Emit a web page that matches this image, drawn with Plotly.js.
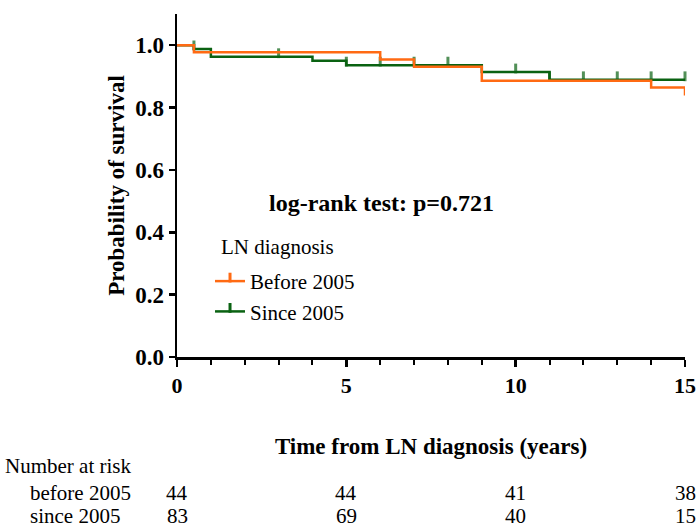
<!DOCTYPE html>
<html>
<head>
<meta charset="utf-8">
<script src="https://cdn.plot.ly/plotly-3.0.1.min.js"></script>
<style>
  html, body { margin: 0; padding: 0; background: #ffffff; }
  #chart { width: 697px; height: 531px; }
</style>
</head>
<body>
<div id="chart"></div>
<script>
// Kaplan-Meier estimates, years from LN diagnosis
const timeBefore   = [0, 0.5, 6, 7, 9, 14, 15];
const survBefore   = [1.0, 0.977, 0.954, 0.931, 0.886, 0.864, 0.839];
const censorBefore = [0, 0, 0, 0, 0, 0, 0];

const timeSince   = [0, 0.5, 1, 3, 4, 5, 6, 7, 8, 9, 10, 11, 12, 13, 14, 15];
const survSince   = [1.0, 0.988, 0.963, 0.963, 0.950, 0.936, 0.936, 0.936, 0.936, 0.914, 0.914, 0.889, 0.889, 0.889, 0.889, 0.889];
const censorSince = [0, 1, 0, 1, 0, 1, 1, 1, 1, 0, 1, 1, 1, 1, 1, 1];

const groupNames = ['Before 2005', 'Since 2005'];
const legendTitle = 'LN diagnosis';
const testLabel = 'log-rank test: p=0.721';

// Number-at-risk table
const riskTimes  = [0, 5, 10, 15];
const riskLabels = ['before 2005', 'since 2005'];
const riskBefore = [44, 44, 41, 38];
const riskSince  = [83, 69, 40, 15];

const xTicks = [0, 5, 10, 15];
const yTicks = [0, 0.2, 0.4, 0.6, 0.8, 1.0];

const ORANGE = '#ff6a13';
const GREEN = '#0a6212';
const SERIF = '"Liberation Serif", "DejaVu Serif", serif';

// step curve with censor ticks standing on the line
function kmTrace(t, s, c, name, color) {
  return {
    type: 'scatter',
    mode: 'lines+markers',
    x: t, y: s, name: name,
    showlegend: false,
    line: { shape: 'hv', color: color, width: 2.5 },
    marker: {
      symbol: 'line-ns',
      size: c.map(v => v ? 7 : 0),
      standoff: 3.5,
      angle: 180,
      color: color,
      line: { color: color, width: 3 }
    },
    cliponaxis: false,
    hoverinfo: 'x+y'
  };
}

// empty trace that only supplies the legend key
function keyTrace(name, color) {
  return {
    type: 'scatter',
    mode: 'lines+markers',
    x: [null], y: [null], name: name,
    line: { color: color, width: 2.5 },
    marker: {
      symbol: 'line-ns', size: 7, standoff: 3.5, angle: 0,
      color: color, line: { color: color, width: 3 }
    },
    hoverinfo: 'skip'
  };
}

const traces = [
  kmTrace(timeSince, survSince, censorSince, groupNames[1], GREEN),
  kmTrace(timeBefore, survBefore, censorBefore, groupNames[0], ORANGE),
  keyTrace(groupNames[0], ORANGE),
  keyTrace(groupNames[1], GREEN)
];

const TABLE_FONT = { family: SERIF, size: 21, color: '#000' };

const annotations = [{
  text: '<b>' + testLabel + '</b>',
  xref: 'paper', yref: 'paper', x: 0.402, y: 0.449,
  xanchor: 'center', yanchor: 'middle', showarrow: false,
  font: { family: SERIF, size: 24, color: '#000' }
}, {
  text: legendTitle,
  xref: 'paper', yref: 'paper', x: 0.083, y: 0.322,
  xanchor: 'left', yanchor: 'middle', showarrow: false,
  font: TABLE_FONT
}, {
  text: 'Number at risk',
  xref: 'paper', yref: 'paper', x: -0.342, y: -0.318,
  xanchor: 'left', yanchor: 'middle', showarrow: false,
  font: TABLE_FONT
}];
riskLabels.forEach((lab, r) => {
  const yy = r === 0 ? -0.397 : -0.465;
  annotations.push({
    text: lab, xref: 'paper', yref: 'paper', x: -0.293, y: yy,
    xanchor: 'left', yanchor: 'middle', showarrow: false,
    font: TABLE_FONT
  });
  const vals = r === 0 ? riskBefore : riskSince;
  riskTimes.forEach((t, i) => {
    annotations.push({
      text: String(vals[i]), xref: 'x', yref: 'paper', x: t, y: yy,
      xanchor: 'center', yanchor: 'middle', showarrow: false,
      font: TABLE_FONT
    });
  });
});

const layout = {
  width: 697, height: 531,
  margin: { l: 177, r: 12, t: 14, b: 174 },
  paper_bgcolor: '#ffffff', plot_bgcolor: '#ffffff',
  font: { family: SERIF, color: '#000' },
  showlegend: true,
  legend: {
    x: 0.065, y: 0.28, xanchor: 'left', yanchor: 'top',
    bgcolor: 'rgba(0,0,0,0)', borderwidth: 0,
    itemsizing: 'trace',
    font: TABLE_FONT
  },
  xaxis: {
    range: [0, 15], fixedrange: true,
    showline: true, linecolor: '#000', linewidth: 2.5,
    showgrid: false, zeroline: false,
    ticks: 'outside', ticklen: 7, tickwidth: 2.5, tickcolor: '#000',
    tickvals: xTicks, ticktext: xTicks.map(String),
    tickfont: { family: SERIF, size: 22, color: '#000', weight: 'bold' },
    minor: { dtick: 1, ticks: 'outside', ticklen: 5, tickwidth: 2, tickcolor: '#000', showgrid: false },
    title: { text: '<b>Time from LN diagnosis (years)</b>', standoff: 41,
             font: { family: SERIF, size: 23, color: '#000' } }
  },
  yaxis: {
    range: [0, 1.1], fixedrange: true,
    showline: true, linecolor: '#000', linewidth: 2.5,
    showgrid: false, zeroline: false,
    ticks: 'outside', ticklen: 6, tickwidth: 2.5, tickcolor: '#000',
    tickvals: yTicks, ticktext: yTicks.map(v => v.toFixed(1)),
    tickfont: { family: SERIF, size: 23, color: '#000', weight: 'bold' },
    title: { text: '<b>Probability of survival</b>', standoff: 4,
             font: { family: SERIF, size: 23, color: '#000' } }
  },
  annotations: annotations
};

Plotly.newPlot('chart', traces, layout, { displayModeBar: false, staticPlot: true });
</script>
</body>
</html>
